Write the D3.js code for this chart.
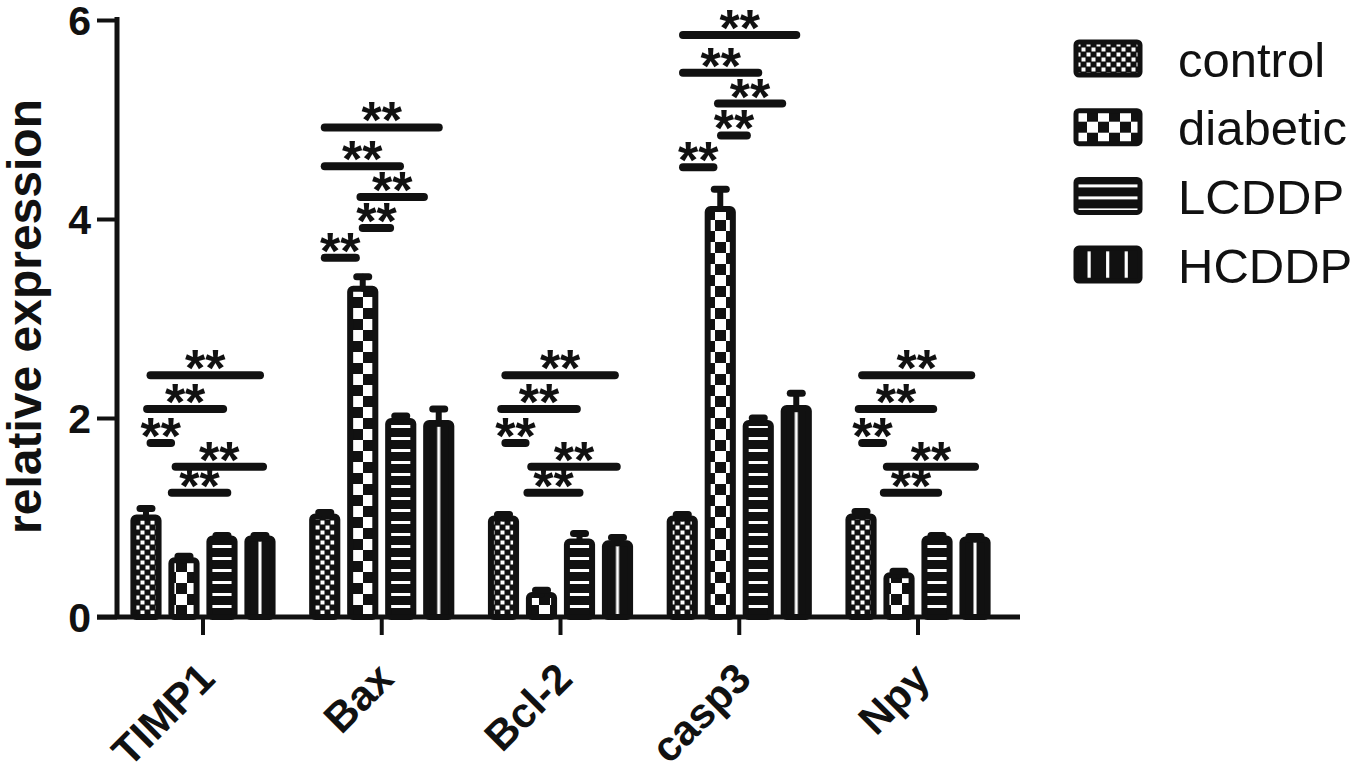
<!DOCTYPE html>
<html>
<head>
<meta charset="utf-8">
<script src="https://cdn.jsdelivr.net/npm/d3@7"></script>
<style>
  body { margin: 0; background: #fff; }
  text { font-family: 'Liberation Sans', Arial, sans-serif; fill: #111; }
</style>
</head>
<body>
<script>
const categories = ['TIMP1', 'Bax', 'Bcl-2', 'casp3', 'Npy']
const groups = ['control', 'diabetic', 'LCDDP', 'HCDDP']

// mean and error (upper only) per group, order follows categories
const control = [1.0, 1.01, 0.99, 0.99, 1.01]
const controlErr = [0.09, 0.04, 0.04, 0.04, 0.05]
const diabetic = [0.57, 3.3, 0.22, 4.1, 0.42]
const diabeticErr = [0.04, 0.12, 0.05, 0.2, 0.04]
const lcddp = [0.79, 1.97, 0.76, 1.95, 0.79]
const lcddpErr = [0.03, 0.05, 0.08, 0.05, 0.03]
const hcddp = [0.79, 1.95, 0.74, 2.1, 0.78]
const hcddpErr = [0.03, 0.14, 0.06, 0.15, 0.03]

const yTicks = [0, 2, 4, 6]

// significance lines: [category, from bar, to bar, level]
const brackets = [
  ['TIMP1', 0.12, 0.66, 1.75], ['TIMP1', 0.03, 2.03, 2.09], ['TIMP1', 0.12, 3.0, 2.43],
  ['TIMP1', 0.78, 3.08, 1.51], ['TIMP1', 0.68, 2.14, 1.25],
  ['Bax', 0.0, 0.82, 3.61], ['Bax', 1.0, 1.72, 3.91], ['Bax', 0.94, 2.61, 4.22],
  ['Bax', 0.0, 1.98, 4.53], ['Bax', 0.0, 3.0, 4.92],
  ['Bcl-2', 0.05, 0.58, 1.75], ['Bcl-2', -0.06, 1.93, 2.09], ['Bcl-2', 0.05, 2.93, 2.43],
  ['Bcl-2', 0.73, 2.98, 1.51], ['Bcl-2', 0.63, 2.0, 1.25],
  ['casp3', 0.02, 0.82, 4.52], ['casp3', 1.02, 1.7, 4.84], ['casp3', 0.94, 2.63, 5.16],
  ['casp3', 0.02, 2.0, 5.47], ['casp3', 0.02, 3.0, 5.85],
  ['Npy', 0.03, 0.58, 1.75], ['Npy', -0.06, 1.9, 2.09], ['Npy', 0.03, 2.9, 2.43],
  ['Npy', 0.68, 3.0, 1.51], ['Npy', 0.6, 2.03, 1.25]
]

const values = [control, diabetic, lcddp, hcddp]
const errors = [controlErr, diabeticErr, lcddpErr, hcddpErr]
const bars = []
groups.forEach((g, gi) => {
  categories.forEach((c, ci) => {
    bars.push({ cat: c, group: g, value: values[gi][ci], err: errors[gi][ci] })
  })
})

const W = 1353, H = 771
const svg = d3.select('body').append('svg')
  .attr('width', W)
  .attr('height', H)

const x = d3.scaleBand().domain(categories).range([113.6, 1007.4]).padding(0)
const xSub = d3.scaleBand().domain(groups).range([-76, 76]).paddingInner(0.18).paddingOuter(0.09)
const y = d3.scaleLinear().domain([0, 6]).range([617, 20])
const cx = c => x(c) + x.bandwidth() / 2
const barIdx = i => xSub(groups[0]) + xSub.bandwidth() / 2 + i * xSub.step()

// patterns
const defs = svg.append('defs')
const pc = defs.append('pattern').attr('id', 'p-control')
  .attr('patternUnits', 'userSpaceOnUse').attr('width', 10).attr('height', 10)
pc.append('rect').attr('width', 10).attr('height', 10).attr('fill', '#111')
pc.append('rect').attr('x', 0.5).attr('y', 0.5).attr('width', 4).attr('height', 4).attr('fill', '#fff')
pc.append('rect').attr('x', 5.5).attr('y', 5.5).attr('width', 4).attr('height', 4).attr('fill', '#fff')

const pd = defs.append('pattern').attr('id', 'p-diabetic')
  .attr('patternUnits', 'userSpaceOnUse').attr('width', 22).attr('height', 22)
pd.append('rect').attr('width', 22).attr('height', 22).attr('fill', '#111')
pd.append('rect').attr('x', 0).attr('y', 0).attr('width', 11).attr('height', 11).attr('fill', '#fff')
pd.append('rect').attr('x', 11).attr('y', 11).attr('width', 11).attr('height', 11).attr('fill', '#fff')

const pl = defs.append('pattern').attr('id', 'p-LCDDP')
  .attr('patternUnits', 'userSpaceOnUse').attr('width', 12).attr('height', 12)
pl.append('rect').attr('width', 12).attr('height', 12).attr('fill', '#111')
pl.append('rect').attr('x', 0).attr('y', 5).attr('width', 12).attr('height', 3).attr('fill', '#fff')

const ph = defs.append('pattern').attr('id', 'p-HCDDP')
  .attr('patternUnits', 'objectBoundingBox').attr('patternContentUnits', 'objectBoundingBox')
  .attr('width', 1).attr('height', 1)
ph.append('rect').attr('width', 1).attr('height', 1).attr('fill', '#111')
ph.append('rect').attr('x', 0.44).attr('y', 0.02).attr('width', 0.12).attr('height', 1).attr('fill', '#fff')

const phl = defs.append('pattern').attr('id', 'p-HCDDP-legend')
  .attr('patternUnits', 'objectBoundingBox').attr('patternContentUnits', 'objectBoundingBox')
  .attr('width', 1).attr('height', 1)
phl.append('rect').attr('width', 1).attr('height', 1).attr('fill', '#111')
;[0.18, 0.47, 0.76].forEach(p => {
  phl.append('rect').attr('x', p).attr('y', 0.1).attr('width', 0.05).attr('height', 0.8).attr('fill', '#fff')
})

// bars
svg.append('g').selectAll('rect')
  .data(bars)
  .join('rect')
    .attr('x', d => cx(d.cat) + xSub(d.group) + 3)
    .attr('y', d => y(d.value))
    .attr('width', xSub.bandwidth() - 6)
    .attr('height', d => y(0) - y(d.value))
    .attr('rx', 3)
    .attr('fill', d => `url(#p-${d.group})`)
    .attr('stroke', '#111')
    .attr('stroke-width', 6)
    .attr('stroke-linejoin', 'round')

// error bars
const eb = svg.append('g').attr('stroke', '#111').attr('stroke-linecap', 'round')
eb.selectAll('.stem')
  .data(bars)
  .join('line')
    .attr('class', 'stem')
    .attr('x1', d => cx(d.cat) + xSub(d.group) + xSub.bandwidth() / 2)
    .attr('x2', d => cx(d.cat) + xSub(d.group) + xSub.bandwidth() / 2)
    .attr('y1', d => y(d.value))
    .attr('y2', d => y(d.value + d.err))
    .attr('stroke-width', 6)
eb.selectAll('.cap')
  .data(bars)
  .join('line')
    .attr('class', 'cap')
    .attr('x1', d => cx(d.cat) + xSub(d.group) + xSub.bandwidth() / 2 - 6)
    .attr('x2', d => cx(d.cat) + xSub(d.group) + xSub.bandwidth() / 2 + 6)
    .attr('y1', d => y(d.value + d.err))
    .attr('y2', d => y(d.value + d.err))
    .attr('stroke-width', 7)

// significance lines and stars
const sig = svg.append('g')
sig.selectAll('line')
  .data(brackets)
  .join('line')
    .attr('x1', d => cx(d[0]) + barIdx(d[1]))
    .attr('x2', d => cx(d[0]) + barIdx(d[2]))
    .attr('y1', d => y(d[3]))
    .attr('y2', d => y(d[3]))
    .attr('stroke', '#111')
    .attr('stroke-width', 8)
    .attr('stroke-linecap', 'round')
sig.selectAll('text')
  .data(brackets)
  .join('text')
    .attr('x', d => cx(d[0]) + (barIdx(d[1]) + barIdx(d[2])) / 2)
    .attr('y', d => y(d[3]) + 11)
    .attr('text-anchor', 'middle')
    .style('font-size', '52px')
    .style('font-weight', 'bold')
    .text('**')

// axes
const yAxis = svg.append('g')
  .attr('transform', 'translate(117,0)')
  .call(d3.axisLeft(y).tickValues(yTicks).tickFormat(d3.format('d')).tickSize(20).tickSizeOuter(0).tickPadding(6))
yAxis.select('.domain').attr('stroke', '#111').attr('stroke-width', 5).attr('d', `M0,${y(6) - 3}V${y(0)}`)
yAxis.selectAll('.tick line').attr('stroke', '#111').attr('stroke-width', 4)
yAxis.selectAll('.tick text')
  .style('font-size', '41px').style('font-weight', 'bold')
  .attr('dy', '0.36em')

const xAxis = svg.append('g')
  .attr('transform', `translate(0,${y(0)})`)
  .call(d3.axisBottom(x).tickSize(18).tickSizeOuter(0))
xAxis.select('.domain').attr('stroke', '#111').attr('stroke-width', 5).attr('d', 'M97,0H1020')
xAxis.selectAll('.tick line').attr('stroke', '#111').attr('stroke-width', 4)
xAxis.selectAll('.tick text')
  .style('font-size', '42px').style('font-weight', 'bold')
  .attr('text-anchor', 'end')
  .attr('dy', 0)
  .attr('y', 0)
  .attr('transform', 'translate(14,64) rotate(-45)')

svg.append('text')
  .attr('transform', `translate(41,${(y(0) + y(6)) / 2 - 2}) rotate(-90)`)
  .attr('text-anchor', 'middle')
  .style('font-size', '48px')
  .style('font-weight', 'bold')
  .text('relative expression')

// legend
const legend = svg.append('g').attr('transform', 'translate(1076,42)')
const row = legend.selectAll('g')
  .data(groups)
  .join('g')
    .attr('transform', (d, i) => `translate(0,${i * 68.7})`)
row.append('rect')
  .attr('width', 64)
  .attr('height', 33)
  .attr('rx', 3)
  .attr('fill', d => d === 'HCDDP' ? 'url(#p-HCDDP-legend)' : `url(#p-${d})`)
  .attr('stroke', '#111')
  .attr('stroke-width', 5)
  .attr('stroke-linejoin', 'round')
row.append('text')
  .attr('x', 102)
  .attr('y', 17)
  .attr('dy', '0.36em')
  .style('font-size', '49px')
  .text(d => d)
</script>
</body>
</html>
